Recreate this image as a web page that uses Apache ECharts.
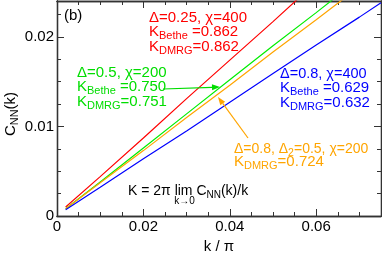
<!DOCTYPE html>
<html><head><meta charset="utf-8">
<script src="https://cdn.jsdelivr.net/npm/echarts@6/dist/echarts.min.js"></script>
<style>html,body{margin:0;padding:0;background:#fff}#c{width:382px;height:254px}</style>
</head><body><div id="c"></div>
<script>
// k/pi sample points
const kValues = [0.002, 0.01, 0.02, 0.03, 0.04, 0.05, 0.06, 0.07, 0.075];
// C_NN(k)
const cRed    = [0.0010, 0.0044, 0.0087, 0.0131, 0.0174, 0.0217, 0.0261, 0.0304, 0.0326];
const cGreen  = [0.0008, 0.0038, 0.0076, 0.0114, 0.0152, 0.0190, 0.0227, 0.0265, 0.0284];
const cOrange = [0.0008, 0.0037, 0.0073, 0.0110, 0.0146, 0.0183, 0.0219, 0.0256, 0.0274];
const cBlue   = [0.0007, 0.0032, 0.0064, 0.0095, 0.0127, 0.0159, 0.0191, 0.0222, 0.0238];
const seriesNames = ['Δ=0.25, χ=400', 'Δ=0.5, χ=200', 'Δ=0.8, Δ2=0.5, χ=200', 'Δ=0.8, χ=400'];
const xTickLabels = ['0', '0.02', '0.04', '0.06'];
const yTickLabels = ['0', '0.01', '0.02'];

const FONT = '"Liberation Sans", Arial, Helvetica, sans-serif';
const AX = '#333';
const chart = echarts.init(document.getElementById('c'), null, {renderer: 'canvas'});
const mctx = document.createElement('canvas').getContext('2d');
function tw(t, fs) { mctx.font = fs + 'px ' + FONT; return mctx.measureText(t).width; }

function zip(ys) { return kValues.map((k, i) => [k, ys[i]]); }
function xAx(pos, interval, len, labels) {
  return {
    type: 'value', min: 0, max: 0.075, interval: interval, position: pos,
    axisLine: {show: true, onZero: false, lineStyle: {color: AX, width: 1.3}},
    axisTick: {show: true, inside: true, length: len, lineStyle: {color: AX, width: 1}},
    axisLabel: {show: labels, color: '#000', fontSize: 15, fontFamily: FONT, margin: 3, showMaxLabel: false,
      formatter: v => { const i = Math.round(v / 0.02); return Math.abs(v - i * 0.02) < 1e-9 ? xTickLabels[i] : ''; }},
    splitLine: {show: false}
  };
}
function yAx(pos, interval, len, labels) {
  return {
    type: 'value', min: 0, max: 0.024, interval: interval, position: pos,
    axisLine: {show: true, onZero: false, lineStyle: {color: AX, width: 1.3}},
    axisTick: {show: true, inside: true, length: len, lineStyle: {color: AX, width: 1}},
    axisLabel: {show: labels, color: '#000', fontSize: 15, fontFamily: FONT, margin: 3, showMaxLabel: false,
      formatter: v => { const i = Math.round(v / 0.01); return Math.abs(v - i * 0.01) < 1e-9 ? yTickLabels[i] : ''; }},
    splitLine: {show: false}
  };
}

const colors = ['#ff0000', '#00ee00', '#ffa500', '#0000ff'];
const textColors = ['#ff0000', '#00dd00', '#ffa500', '#0000ff'];
const dataSets = [cRed, cGreen, cOrange, cBlue];

function tEl(x, y, t, color, fs, align) {
  return {type: 'text', x: x, y: y, z: 100,
    style: {text: t, fill: color, font: fs + 'px ' + FONT, verticalAlign: 'middle', align: align || 'left'}};
}
// sequence of normal/subscript text pieces
function seq(x, y, parts, color, size, subSize, center) {
  size = size || 15; subSize = subSize || 11;
  let total = 0;
  parts.forEach(p => { total += tw(p[0], p[1] ? subSize : size); });
  let cx = center ? -total / 2 : 0;
  const children = parts.map(p => {
    const fs = p[1] ? subSize : size;
    const el = tEl(cx, p[1] ? 4 : 0, p[0], color, fs);
    cx += tw(p[0], fs);
    return el;
  });
  return {type: 'group', x: x, y: y, z: 100, children: children};
}
function arrow(x1, y1, x2, y2, color) {
  const a = Math.atan2(y2 - y1, x2 - x1), L = 8, W = 3;
  const bx = x2 - L * Math.cos(a), by = y2 - L * Math.sin(a);
  const px = -Math.sin(a) * W, py = Math.cos(a) * W;
  return [
    {type: 'line', z: 100, shape: {x1: x1, y1: y1, x2: bx, y2: by}, style: {stroke: color, lineWidth: 1.2}},
    {type: 'polygon', z: 100, shape: {points: [[x2, y2], [bx + px, by + py], [bx - px, by - py]]}, style: {fill: color}}
  ];
}
function formula(x, y) {
  const fs = 14, ss = 10;
  const kids = [];
  let cx = 0;
  kids.push(tEl(cx, 0, 'K = 2π ', '#000', fs)); cx += tw('K = 2π ', fs);
  const wl = tw('lim', fs);
  kids.push(tEl(cx, 0, 'lim', '#000', fs));
  kids.push(tEl(cx + wl / 2 + 1, 10.5, 'k→0', '#000', ss, 'center'));
  cx += wl + tw(' ', fs);
  kids.push(tEl(cx, 0, 'C', '#000', fs)); cx += tw('C', fs);
  kids.push(tEl(cx, 4, 'NN', '#000', ss)); cx += tw('NN', ss);
  kids.push(tEl(cx, 0, '(k)/k', '#000', fs));
  return {type: 'group', x: x, y: y, z: 100, children: kids};
}

const yTitle = seq(11, 114, [['C', 0], ['NN', 1], ['(k)', 0]], '#000', 15, 11, true);
yTitle.rotation = Math.PI / 2;

const graphics = [
  tEl(64, 16, '(b)', '#000', 15),
  tEl(149, 18, 'Δ=0.25, χ=400', textColors[0], 15),
  seq(149, 32, [['K', 0], ['Bethe', 1], [' =0.862', 0]], textColors[0]),
  seq(149, 47, [['K', 0], ['DMRG', 1], ['=0.862', 0]], textColors[0]),
  tEl(77, 73, 'Δ=0.5, χ=200', textColors[1], 15),
  seq(77, 87, [['K', 0], ['Bethe', 1], [' =0.750', 0]], textColors[1]),
  seq(77, 102, [['K', 0], ['DMRG', 1], ['=0.751', 0]], textColors[1]),
  tEl(280, 74, 'Δ=0.8, χ=400', textColors[3], 14.5),
  seq(280, 88, [['K', 0], ['Bethe', 1], [' =0.629', 0]], textColors[3]),
  seq(280, 103, [['K', 0], ['DMRG', 1], ['=0.632', 0]], textColors[3]),
  seq(234, 149, [['Δ=0.8, Δ', 0], ['2', 1], ['=0.5, χ=200', 0]], textColors[2], 14, 10.5),
  seq(234, 162, [['K', 0], ['DMRG', 1], ['=0.724', 0]], textColors[2]),
  formula(128, 191),
  tEl(219, 247, 'k / π', '#000', 15, 'center'),
  yTitle,
  ...arrow(163, 89, 220, 87, textColors[1]),
  ...arrow(248, 138, 218, 97, textColors[2])
];

chart.setOption({
  animation: false,
  backgroundColor: '#fff',
  grid: {left: 57, right: 1, top: 1, bottom: 38, containLabel: false},
  xAxis: [xAx('bottom', 0.02, 7, true), xAx('bottom', 0.005, 4, false), xAx('top', 0.02, 7, false), xAx('top', 0.005, 4, false)],
  yAxis: [yAx('left', 0.01, 7, true), yAx('left', 0.0025, 4, false), yAx('right', 0.01, 7, false), yAx('right', 0.0025, 4, false)],
  series: dataSets.map((d, i) => ({
    name: seriesNames[i], type: 'line', data: zip(d), showSymbol: false, symbol: 'none',
    clip: true, lineStyle: {color: colors[i], width: 1.2}, itemStyle: {color: colors[i]}, z: 10
  })),
  graphic: graphics
});
</script></body></html>
